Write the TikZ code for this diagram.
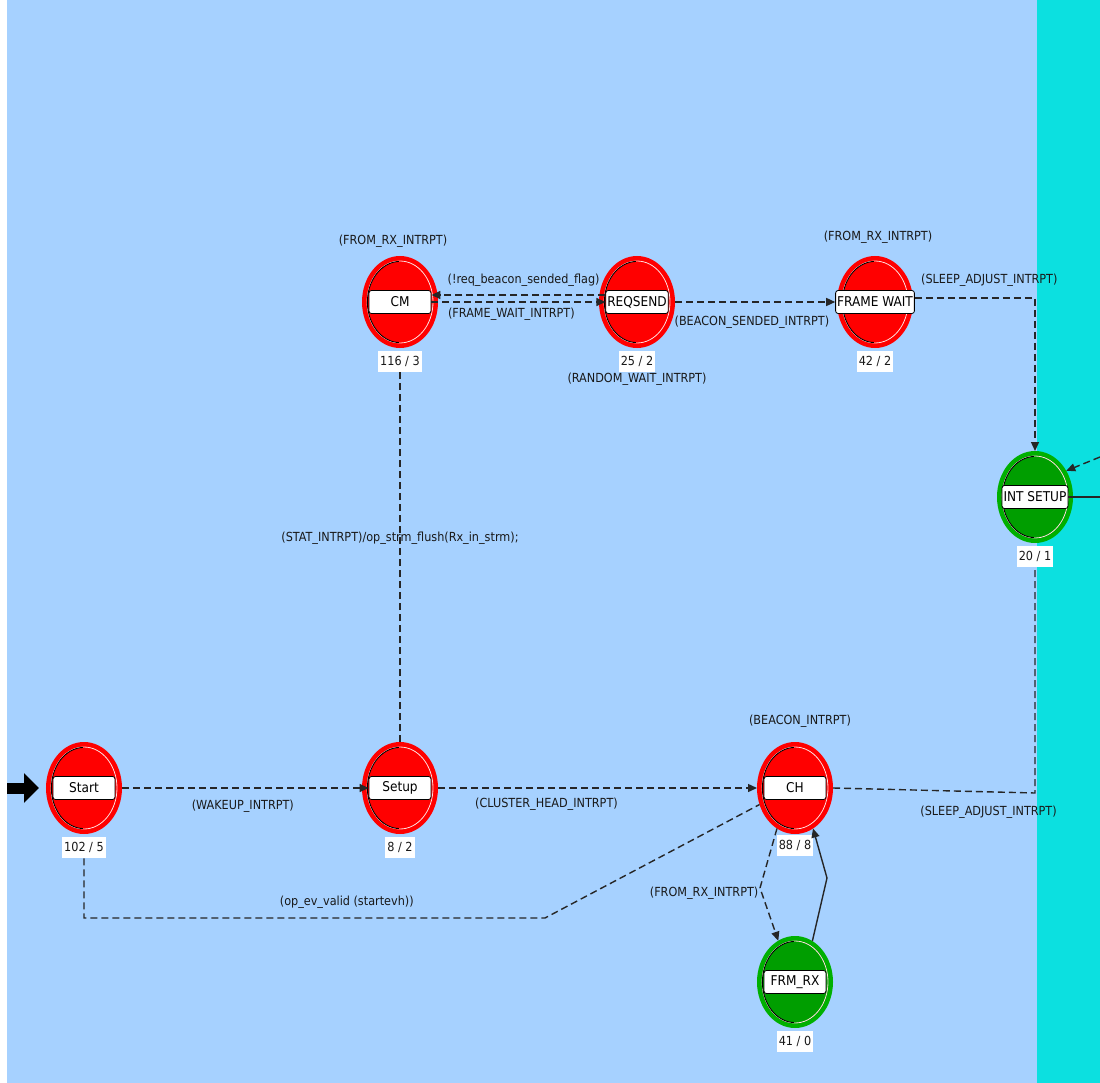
\documentclass[tikz,border=0pt]{standalone}
\usepackage{fontspec}
\setmainfont{DejaVu Sans Condensed}
\usetikzlibrary{shapes.geometric,positioning,arrows.meta}
\definecolor{bgblue}{HTML}{A6D1FF}
\definecolor{bgcyan}{HTML}{0CE0E0}
\definecolor{stred}{HTML}{FF0000}
\definecolor{stgreen}{HTML}{009E00}
\definecolor{ringgreen}{HTML}{00B000}
\definecolor{linegray}{HTML}{262626}
\begin{document}
\begin{tikzpicture}[
    x=1pt, y=1pt,
    every node/.style={font=\fontsize{12.5}{14}\selectfont, text=black!90},
    st/.style={ellipse, minimum width=72pt, minimum height=88pt, inner sep=0pt,
      line width=4pt,
      path picture={
        \draw[pink!50!white, line width=.8pt] (path picture bounding box.center)
          ellipse [x radius=33pt, y radius=41pt];
        \draw[black, line width=.9pt] (path picture bounding box.center)
          ++(92:32.6pt and 40.6pt)
          arc[start angle=92, end angle=268, x radius=32.6pt, y radius=40.6pt];
      }},
    redst/.style={st, fill=stred, draw=stred},
    greenst/.style={st, fill=stgreen, draw=ringgreen},
    namebox/.style={draw=black, fill=white, rounded corners=2.5pt,
      minimum width=62pt, minimum height=23pt, inner sep=1.5pt,
      line width=.8pt, text=black, font=\fontsize{13.5}{15}\selectfont},
    cntbox/.style={fill=white, inner sep=2pt, minimum height=21pt},
    lbl/.style={inner sep=1pt},
    trans/.style={draw=linegray, line width=1.4pt, dash pattern=on 7pt off 4pt,
      -{Triangle[length=9pt,width=8pt]}},
    fatarrow/.style={draw=black, line width=11pt,
      -{Triangle[length=15pt,width=29pt]}, shorten >=7pt}
]
  % background
  \useasboundingbox (0,0) rectangle (1100,-1083);
  \fill[bgblue] (7,0) rectangle (1037,-1083);
  \fill[bgcyan] (1037,0) rectangle (1100,-1083);

  % states
  \node[redst] (start) at (84,-788) {};
  \node[namebox] (start-box) at (start) {Start};
  \node[cntbox, below=3pt of start] (start-cnt) {102 / 5};

  \node[redst] (setup) at (400,-788) {};
  \node[namebox] (setup-box) at (setup) {Setup};
  \node[cntbox, below=3pt of setup] (setup-cnt) {8 / 2};

  \node[redst] (cm) at (400,-302) {};
  \node[namebox] (cm-box) at (cm) {CM};
  \node[cntbox, below=3pt of cm] (cm-cnt) {116 / 3};
  \node[above=5pt of cm, xshift=-7pt] (cm-loop) {(FROM\_RX\_INTRPT)};

  \node[redst] (reqsend) at (637,-302) {};
  \node[namebox] (reqsend-box) at (reqsend) {REQSEND};
  \node[cntbox, below=3pt of reqsend] (reqsend-cnt) {25 / 2};
  \node[below=-3pt of reqsend-cnt] (reqsend-loop) {(RANDOM\_WAIT\_INTRPT)};

  \node[redst] (framewait) at (875,-302) {};
  \node[namebox] (framewait-box) at (framewait) {FRAME WAIT};
  \node[cntbox, below=3pt of framewait] (framewait-cnt) {42 / 2};
  \node[above=9pt of framewait, xshift=3pt] (framewait-loop) {(FROM\_RX\_INTRPT)};

  \node[greenst] (intsetup) at (1035,-497) {};
  \node[namebox] (intsetup-box) at (intsetup) {INT SETUP};
  \node[cntbox, below=3pt of intsetup] (intsetup-cnt) {20 / 1};

  \node[redst] (ch) at (795,-788) {};
  \node[namebox] (ch-box) at (ch) {CH};
  \node[cntbox, below=1pt of ch] (ch-cnt) {88 / 8};
  \node[above=11pt of ch, xshift=5pt] (ch-loop) {(BEACON\_INTRPT)};

  \node[greenst] (frmrx) at (795,-982) {};
  \node[namebox] (frmrx-box) at (frmrx) {FRM\_RX};
  \node[cntbox, below=3pt of frmrx] (frmrx-cnt) {41 / 0};

  % free ends and bends
  \coordinate (init) at (7,-788);
  \coordinate (ext-in) at (1100,-457);
  \coordinate (ext-out) at (1100,-497);
  \coordinate (startch-bend) at (545,-918);
  \coordinate (chrx-bend) at (760,-888);
  \coordinate (rxch-bend) at (827,-878);
  \coordinate (chint-bend) at (1035,-793);

  % transitions
  \draw[fatarrow] (init) -- (start.west);
  \draw[trans] (start.east)
    -- node[lbl, pos=.49, below=10.5pt] {(WAKEUP\_INTRPT)}
    (setup-box.west);
  \draw[trans] (setup.east)
    -- node[lbl, pos=.34, below=8.5pt] {(CLUSTER\_HEAD\_INTRPT)}
    (ch.west);
  \draw[trans, -] (setup.north)
    -- node[pos=.55] {(STAT\_INTRPT)/op\_strm\_flush(Rx\_in\_strm);}
    (cm-cnt.south);
  \draw[trans] ([yshift=7pt]reqsend-box.west)
    -- node[lbl, pos=.47, above=6.5pt] {(!req\_beacon\_sended\_flag)}
    ([yshift=7pt]cm-box.east);
  \draw[trans] (cm-box.east)
    -- node[lbl, pos=.46, below=4.5pt] {(FRAME\_WAIT\_INTRPT)}
    (reqsend-box.west);
  \draw[trans] (reqsend.east)
    -- node[lbl, pos=.48, below=12.5pt] {(BEACON\_SENDED\_INTRPT)}
    (framewait-box.west);
  \draw[trans] ([yshift=4pt]framewait-box.east)
    -| node[lbl, pos=.31, above=9.5pt] {(SLEEP\_ADJUST\_INTRPT)}
    (intsetup.north);
  \draw[trans, -] (ch.east)
    -- node[lbl, pos=.77, below=12.5pt] {(SLEEP\_ADJUST\_INTRPT)}
    (chint-bend) -- (intsetup-cnt.south);
  \draw[trans, -] (start-cnt.south)
    |- node[lbl, pos=.785, above=7.5pt] {(op\_ev\_valid (startevh))}
    (startch-bend) -- (ch.205);
  \draw[trans] (ch.246) -- (chrx-bend)
    node[lbl, left, yshift=-5pt] {(FROM\_RX\_INTRPT)}
    -- (frmrx.112);
  \draw[trans, solid] (frmrx.67) -- (rxch-bend) -- (ch.294);
  \draw[trans] (ext-in) -- (intsetup.40);
  \draw[draw=linegray, line width=1.4pt] (intsetup-box.east) -- (ext-out);
\end{tikzpicture}
\end{document}
